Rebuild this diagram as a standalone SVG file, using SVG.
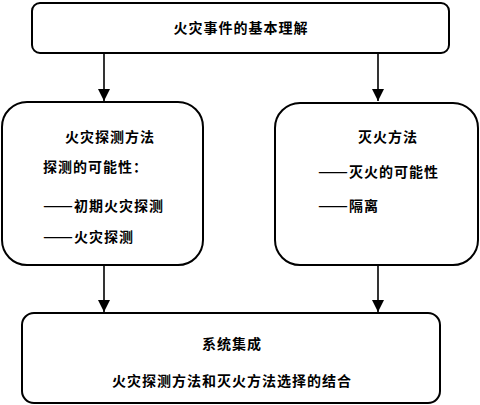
<svg xmlns="http://www.w3.org/2000/svg" width="480" height="405" viewBox="0 0 480 405">
<defs>
<style>
.box{fill:#fff;stroke:#000;stroke-width:2}
.t{font-family:"Noto Sans CJK SC","Noto Sans",sans-serif;font-size:14px;font-weight:bold;fill:#000;letter-spacing:1px}
.c{text-anchor:middle}
.d{letter-spacing:0px}
.e{stroke:#000;stroke-width:1.6;fill:none}
</style>
<marker id="ah" viewBox="0 0 10 10" refX="10" refY="5" markerWidth="12" markerHeight="12" markerUnits="userSpaceOnUse" orient="auto">
<path d="M0,0 L10,5 L0,10 z" fill="#000"/>
</marker>
</defs>
<rect width="480" height="405" fill="#fff"/>
<g id="connectors">
<line class="e" x1="104" y1="54" x2="104" y2="101" marker-end="url(#ah)"/>
<line class="e" x1="378" y1="54" x2="378" y2="101" marker-end="url(#ah)"/>
<line class="e" x1="104" y1="265" x2="104" y2="312" marker-end="url(#ah)"/>
<line class="e" x1="378" y1="265" x2="378" y2="312" marker-end="url(#ah)"/>
</g>
<g id="top">
<rect class="box" x="32" y="3" width="417" height="50" rx="8"/>
<text class="t c" x="241" y="33">火灾事件的基本理解</text>
</g>
<g id="left">
<rect class="box" x="2" y="102" width="201" height="163" rx="25"/>
<text class="t c" x="110" y="142">火灾探测方法</text>
<text class="t" x="43" y="172">探测的可能性：</text>
<text class="t" x="43" y="211"><tspan class="d" textLength="30" lengthAdjust="spacingAndGlyphs">——</tspan><tspan dx="1">初期火灾探测</tspan></text>
<text class="t" x="43" y="242"><tspan class="d" textLength="30" lengthAdjust="spacingAndGlyphs">——</tspan><tspan dx="1">火灾探测</tspan></text>
</g>
<g id="right">
<rect class="box" x="275" y="103" width="203" height="162" rx="25"/>
<text class="t c" x="388" y="142">灭火方法</text>
<text class="t" x="318" y="177"><tspan class="d" textLength="30" lengthAdjust="spacingAndGlyphs">——</tspan><tspan dx="1">灭火的可能性</tspan></text>
<text class="t" x="318" y="211"><tspan class="d" textLength="30" lengthAdjust="spacingAndGlyphs">——</tspan><tspan dx="1">隔离</tspan></text>
</g>
<g id="bottom">
<rect class="box" x="22" y="313" width="418" height="90" rx="12"/>
<text class="t c" x="232" y="349">系统集成</text>
<text class="t c" x="232" y="386">火灾探测方法和灭火方法选择的结合</text>
</g>
</svg>
